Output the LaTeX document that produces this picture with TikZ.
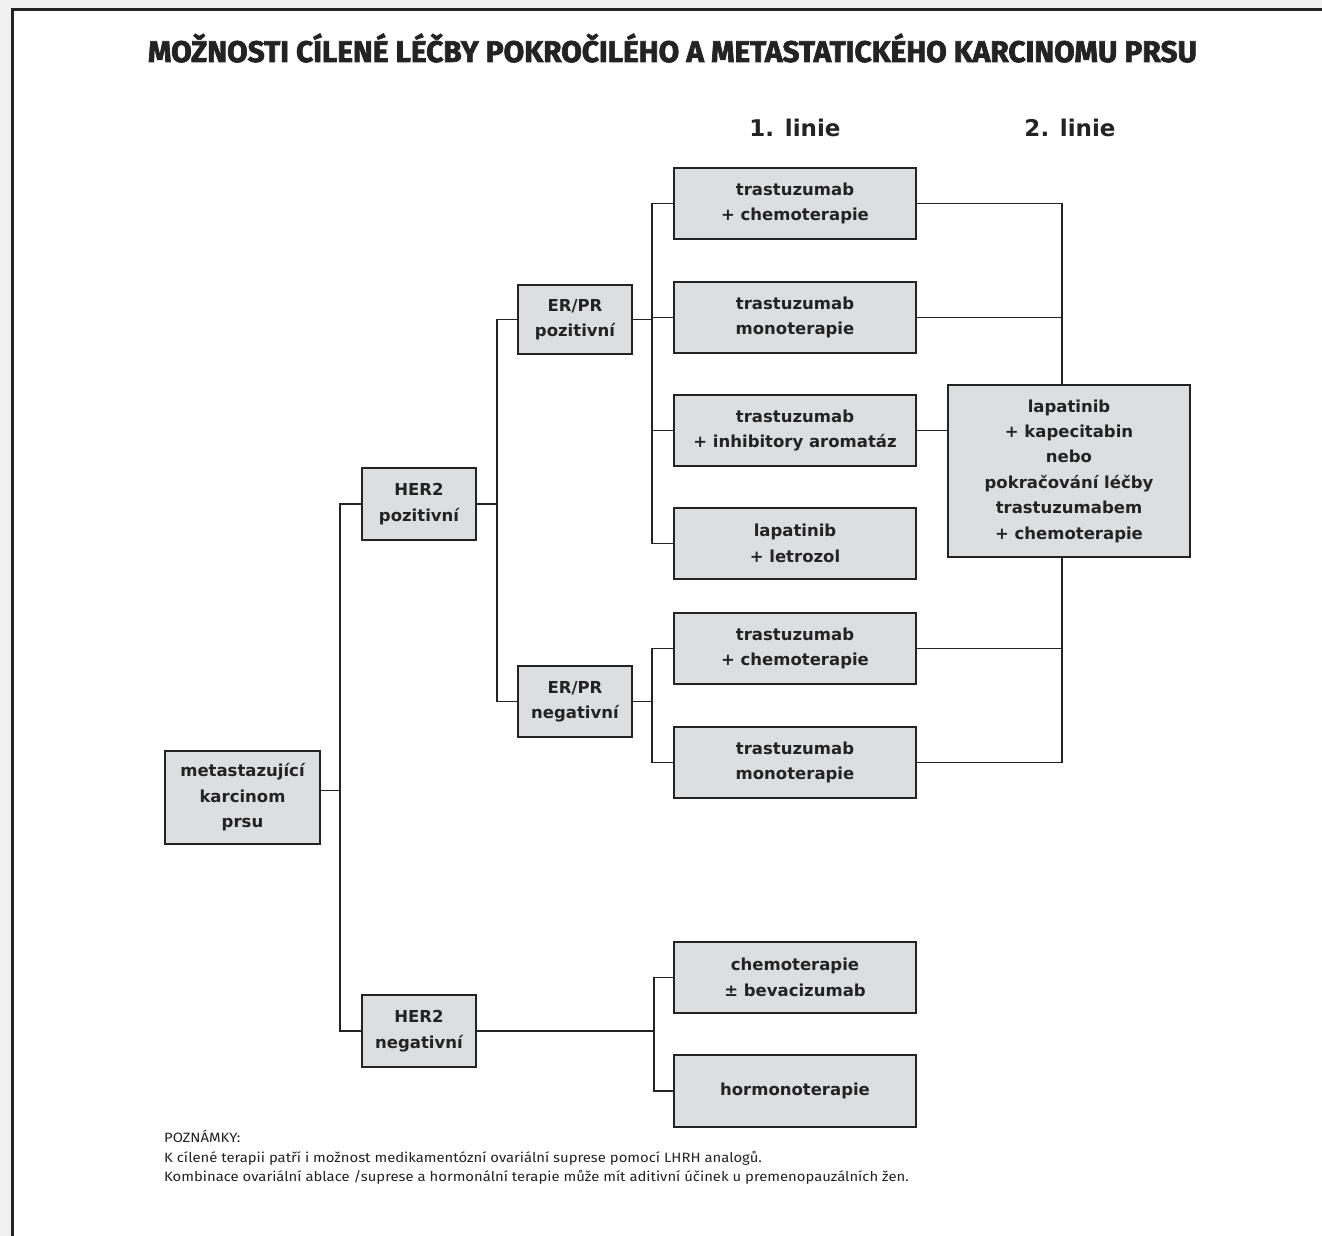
\documentclass[tikz,border=0pt]{standalone}
\usepackage{fontspec}
\usepackage{graphicx}
\setmainfont{DejaVu Sans}
\newfontfamily\titlefont{Fira Sans}[FakeBold=2.2]
\newfontfamily\boxfont{DejaVu Sans}
\newfontfamily\notefont{Fira Sans}[FakeStretch=1.1]
\usetikzlibrary{calc}
\definecolor{boxfill}{RGB}{221,222,224}
\definecolor{ink}{RGB}{35,35,35}
\tikzset{
  tbox/.style={draw=ink, fill=boxfill, line width=1.3pt, align=center, inner sep=0pt,
    minimum width=242pt, minimum height=71pt,
    font=\boxfont\bfseries\fontsize{16.5}{25.4}\selectfont, text=ink},
  sbox/.style={tbox, minimum width=114pt},
  conn/.style={draw=ink, line width=1.2pt},
  hdr/.style={font=\boxfont\bfseries\fontsize{23}{26}\selectfont, text=ink, anchor=base},
  note/.style={font=\notefont\fontsize{13.5}{16}\selectfont, text=ink, anchor=base west, inner sep=0pt}
}
\begin{document}
\begin{tikzpicture}[x=1pt,y=-1pt]
\useasboundingbox (0,0) rectangle (1322,1236);
\fill[black!6] (0,0) rectangle (1322,1236);
\fill[white] (12,10) rectangle (1322,1236);
\draw[ink, line width=3pt] (12,1236) -- (12,10) -- (1322,10);

\node[anchor=base, inner sep=0pt, font=\titlefont\bfseries\fontsize{28}{30}\selectfont, text=ink] (title) at (672.5,62)
  {\resizebox{1049pt}{!}{MOŽNOSTI CÍLENÉ LÉČBY POKROČILÉHO A METASTATICKÉHO KARCINOMU PRSU}};
\node[hdr] (h1) at (795,136) {1. linie};
\node[hdr] (h2) at (1070,136) {2. linie};

% first-line boxes
\node[tbox] (A1) at (795,203.5) {trastuzumab\\+ chemoterapie};
\node[tbox] (A2) at (795,317.5) {trastuzumab\\monoterapie};
\node[tbox] (A3) at (795,430.5) {trastuzumab\\+ inhibitory aromatáz};
\node[tbox] (A4) at (795,543.5) {lapatinib\\+ letrozol};
\node[tbox] (B1) at (795,648.5) {trastuzumab\\+ chemoterapie};
\node[tbox] (B2) at (795,762.5) {trastuzumab\\monoterapie};
\node[tbox] (C1) at (795,977.5) {chemoterapie\\± bevacizumab};
\node[tbox, minimum height=72pt] (C2) at (795,1091) {hormonoterapie};

% second line
\node[tbox, minimum height=172pt] (L2) at (1069,471)
  {lapatinib\\+ kapecitabin\\nebo\\pokračování léčby\\trastuzumabem\\+ chemoterapie};

% receptor boxes
\node[sbox, minimum height=69pt] (EP) at (575,319.5) {ER/PR\\pozitivní};
\node[sbox] (EN) at (575,701.5) {ER/PR\\negativní};
\node[sbox, minimum height=72pt] (HP) at (419,504) {HER2\\pozitivní};
\node[sbox, minimum height=72pt] (HN) at (419,1031) {HER2\\negativní};
\node[tbox, minimum width=155pt, minimum height=93pt] (M) at (242.5,797.5) {metastazující\\karcinom\\prsu};

% bus coordinates
\coordinate (b1) at (340,0);
\coordinate (b2) at (497,0);
\coordinate (b3) at (652,0);
\coordinate (b5) at (654,0);
\coordinate (b4) at (1062,0);
\path (M.east) ++(0,-7) coordinate (Mout);

% connectors
\draw[conn] (Mout) -- (Mout -| b1);
\draw[conn] (HP.west) -- (HP.west -| b1) -- (HN.west -| b1) -- (HN.west);
\draw[conn] (HP.east) -- (HP.east -| b2);
\draw[conn] (EP.west) -- (EP.west -| b2) -- (EN.west -| b2) -- (EN.west);
\draw[conn] (EP.east) -- (EP.east -| b3);
\draw[conn] (A1.west) -- (A1.west -| b3) -- (A4.west -| b3) -- (A4.west);
\draw[conn] (A2.west) -- (A2.west -| b3);
\draw[conn] (A3.west) -- (A3.west -| b3);
\draw[conn] (EN.east) -- (EN.east -| b3);
\draw[conn] (B1.west) -- (B1.west -| b3) -- (B2.west -| b3) -- (B2.west);
\draw[conn] (HN.east) -- (HN.east -| b5);
\draw[conn] (C1.west) -- (C1.west -| b5) -- (C2.west -| b5) -- (C2.west);
\draw[conn] (A1.east) -- (A1.east -| b4) -- (L2.north -| b4);
\draw[conn] (A2.east) -- (A2.east -| b4);
\draw[conn] (A3.east) -- (A3.east -| L2.west);
\draw[conn] (L2.south -| b4) -- (B2.east -| b4) -- (B2.east);
\draw[conn] (B1.east) -- (B1.east -| b4);

% notes
\node[note] (n1) at (164,1142) {POZNÁMKY:};
\node[note] (n2) at (164,1162) {K cílené terapii patří i možnost medikamentózní ovariální suprese pomocí LHRH analogů.};
\node[note] (n3) at (164,1181) {Kombinace ovariální ablace /suprese a hormonální terapie může mít aditivní účinek u premenopauzálních žen.};
\end{tikzpicture}
\end{document}
